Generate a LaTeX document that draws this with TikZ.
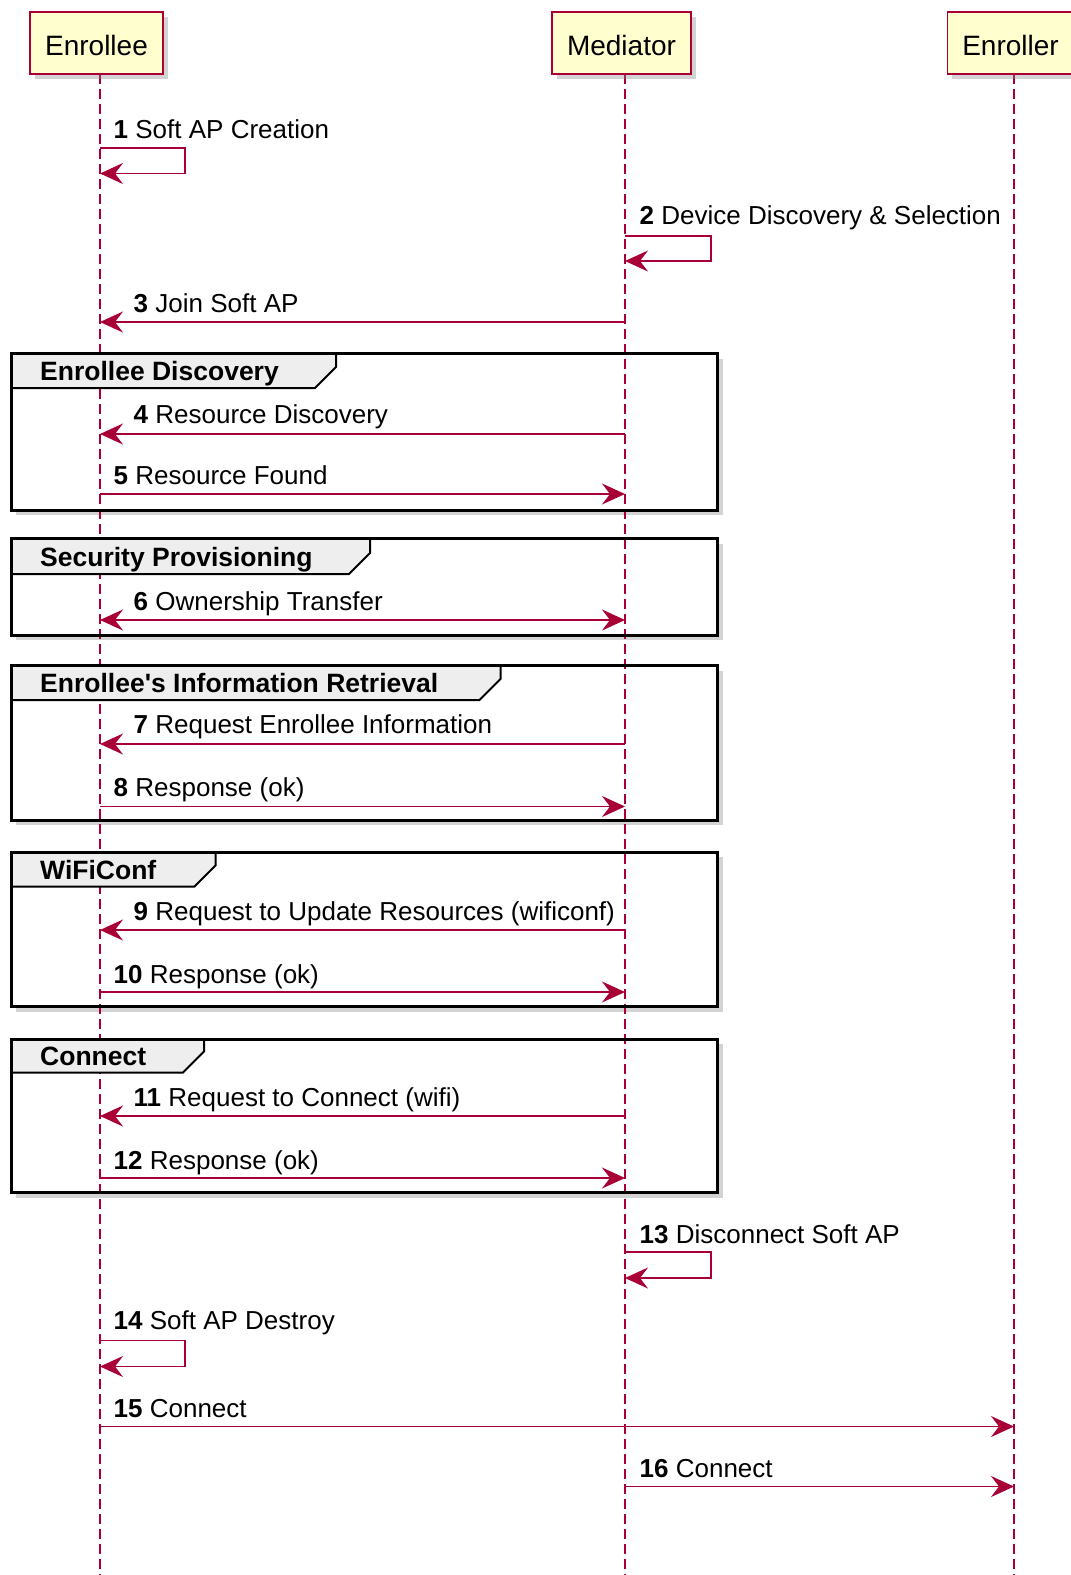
\documentclass[tikz,border=0pt]{standalone}
\usepackage{fontspec}
\setmainfont{Liberation Sans}
\usetikzlibrary{arrows.meta,shadows}
\definecolor{plum}{HTML}{A80036}
\definecolor{partfill}{HTML}{FEFECE}
\definecolor{tabfill}{HTML}{EEEEEE}

\begin{document}
\begin{tikzpicture}[x=1pt, y=-1pt,
    actor/.style={rectangle, draw=plum, fill=partfill, line width=1.5pt, minimum height=62pt, inner xsep=15pt, text height=28pt, text depth=4pt, font=\fontsize{28}{32}\selectfont, drop shadow={shadow xshift=5pt, shadow yshift=-5pt, opacity=0.35}},
    lifeline/.style={draw=plum, line width=1.5pt, dash pattern=on 10pt off 5pt},
    msg/.style={draw=plum, line width=1.5pt, -{Stealth[length=23pt, width=21pt, inset=8pt]}},
    msgboth/.style={msg, {Stealth[length=23pt, width=21pt, inset=8pt]}-{Stealth[length=23pt, width=21pt, inset=8pt]}},
    msgtext/.style={anchor=base west, inner sep=0pt, font=\fontsize{26}{30}\selectfont},
    groupback/.style={fill=white, drop shadow={shadow xshift=5pt, shadow yshift=-5pt, opacity=0.35}},
    groupframe/.style={draw=black, line width=3pt},
    grouptab/.style={draw=black, fill=tabfill, line width=2pt, line join=miter},
    grouptitle/.style={anchor=base west, inner sep=0pt, font=\bfseries\fontsize{26.5}{30}\selectfont}
  ]
  \useasboundingbox (0,0) rectangle (1071,1575);

  % group backgrounds
  \path[groupback] (11,353.5) rectangle (717.5,510);
  \path[groupback] (11,538.5) rectangle (717.5,635);
  \path[groupback] (11,665.5) rectangle (717.5,820);
  \path[groupback] (11,852) rectangle (717.5,1006.5);
  \path[groupback] (11,1039) rectangle (717.5,1192.5);

  % lifelines
  \coordinate (ee-top) at (100,74);
  \coordinate (ee-end) at (100,1575);
  \coordinate (md-top) at (625,74);
  \coordinate (md-end) at (625,1575);
  \coordinate (er-top) at (1014,74);
  \coordinate (er-end) at (1014,1575);
  \draw[lifeline] (ee-top) -- (ee-end);
  \draw[lifeline] (md-top) -- (md-end);
  \draw[lifeline] (er-top) -- (er-end);

  % groups
  \draw[grouptab] (11,353.5) -- (336,353.5) -- (336,367) -- (315,388) -- (11,388);
  \draw[groupframe] (11,353.5) rectangle (717.5,510);
  \node[grouptitle] (g1) at (40,380.7) {Enrollee Discovery};

  \draw[grouptab] (11,538.5) -- (370,538.5) -- (370,553) -- (349,574) -- (11,574);
  \draw[groupframe] (11,538.5) rectangle (717.5,635);
  \node[grouptitle] (g2) at (40,566.7) {Security Provisioning};

  \draw[grouptab] (11,665.5) -- (500.5,665.5) -- (500.5,679) -- (479.5,700) -- (11,700);
  \draw[groupframe] (11,665.5) rectangle (717.5,820);
  \node[grouptitle] (g3) at (40,692.7) {Enrollee\textquotesingle s Information Retrieval};

  \draw[grouptab] (11,852) -- (215.5,852) -- (215.5,865.5) -- (194.5,886.5) -- (11,886.5);
  \draw[groupframe] (11,852) rectangle (717.5,1006.5);
  \node[grouptitle] (g4) at (40,879) {WiFiConf};

  \draw[grouptab] (11,1039) -- (204,1039) -- (204,1051.5) -- (183,1072.5) -- (11,1072.5);
  \draw[groupframe] (11,1039) rectangle (717.5,1192.5);
  \node[grouptitle] (g5) at (40,1065) {Connect};

  % participants
  \node[actor] (enrollee) at (96.5,43) {Enrollee};
  \node[actor] (mediator) at (621.5,43) {Mediator};
  \node[actor] (enroller) at (1010.5,43) {Enroller};

  % messages
  \coordinate (m1a) at (100,148);
  \coordinate (m1b) at (100,173.5);
  \draw[msg] (m1a) -- ++(85,0) |- (m1b);
  \node[msgtext] (t1) at (113.5,138.5) {\textbf{1} Soft AP Creation};

  \coordinate (m2a) at (625,236);
  \coordinate (m2b) at (625,261);
  \draw[msg] (m2a) -- ++(86,0) |- (m2b);
  \node[msgtext] (t2) at (639.5,224.5) {\textbf{2} Device Discovery \& Selection};

  \coordinate (m3a) at (625,322);
  \coordinate (m3b) at (100,322);
  \draw[msg] (m3a) -- (m3b);
  \node[msgtext] (t3) at (133.5,312) {\textbf{3} Join Soft AP};

  \coordinate (m4a) at (625,434);
  \coordinate (m4b) at (100,434);
  \draw[msg] (m4a) -- (m4b);
  \node[msgtext] (t4) at (133.5,423.5) {\textbf{4} Resource Discovery};

  \coordinate (m5a) at (100,494);
  \coordinate (m5b) at (625,494);
  \draw[msg] (m5a) -- (m5b);
  \node[msgtext] (t5) at (113.5,484) {\textbf{5} Resource Found};

  \coordinate (m6a) at (100,620);
  \coordinate (m6b) at (625,620);
  \draw[msgboth] (m6a) -- (m6b);
  \node[msgtext] (t6) at (133.5,610) {\textbf{6} Ownership Transfer};

  \coordinate (m7a) at (625,744);
  \coordinate (m7b) at (100,744);
  \draw[msg] (m7a) -- (m7b);
  \node[msgtext] (t7) at (133.5,733) {\textbf{7} Request Enrollee Information};

  \coordinate (m8a) at (100,806.5);
  \coordinate (m8b) at (625,806.5);
  \draw[msg] (m8a) -- (m8b);
  \node[msgtext] (t8) at (113.5,796.5) {\textbf{8} Response (ok)};

  \coordinate (m9a) at (625,930);
  \coordinate (m9b) at (100,930);
  \draw[msg] (m9a) -- (m9b);
  \node[msgtext] (t9) at (133.5,920.5) {\textbf{9} Request to Update Resources (wificonf)};

  \coordinate (m10a) at (100,992);
  \coordinate (m10b) at (625,992);
  \draw[msg] (m10a) -- (m10b);
  \node[msgtext] (t10) at (113.5,983) {\textbf{10} Response (ok)};

  \coordinate (m11a) at (625,1116);
  \coordinate (m11b) at (100,1116);
  \draw[msg] (m11a) -- (m11b);
  \node[msgtext] (t11) at (133.5,1106.5) {\textbf{11} Request to Connect (wifi)};

  \coordinate (m12a) at (100,1178);
  \coordinate (m12b) at (625,1178);
  \draw[msg] (m12a) -- (m12b);
  \node[msgtext] (t12) at (113.5,1169) {\textbf{12} Response (ok)};

  \coordinate (m13a) at (625,1252);
  \coordinate (m13b) at (625,1278);
  \draw[msg] (m13a) -- ++(86,0) |- (m13b);
  \node[msgtext] (t13) at (639.5,1243) {\textbf{13} Disconnect Soft AP};

  \coordinate (m14a) at (100,1340.5);
  \coordinate (m14b) at (100,1366.5);
  \draw[msg] (m14a) -- ++(85,0) |- (m14b);
  \node[msgtext] (t14) at (113.5,1329) {\textbf{14} Soft AP Destroy};

  \coordinate (m15a) at (100,1426.5);
  \coordinate (m15b) at (1014,1426.5);
  \draw[msg] (m15a) -- (m15b);
  \node[msgtext] (t15) at (113.5,1417) {\textbf{15} Connect};

  \coordinate (m16a) at (625,1486.5);
  \coordinate (m16b) at (1014,1486.5);
  \draw[msg] (m16a) -- (m16b);
  \node[msgtext] (t16) at (639.5,1477) {\textbf{16} Connect};
\end{tikzpicture}
\end{document}
